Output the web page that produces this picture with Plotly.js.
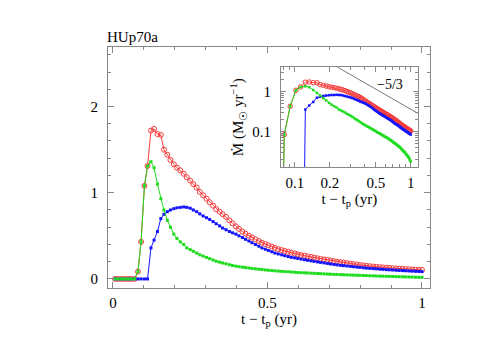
<!DOCTYPE html>
<html>
<head>
<meta charset="utf-8">
<script src="https://cdn.plot.ly/plotly-3.0.1.min.js"></script>
<style>
  html, body { margin: 0; padding: 0; background: #fff; }
  #chart { width: 501px; height: 355px; }
</style>
</head>
<body>
<div id="chart"></div>
<script>
// time since pericentre (yr)
var t = [0.007,0.017,0.028,0.038,0.049,0.059,0.070,0.081,0.091,0.102,
         0.112,0.123,0.133,0.144,0.155,0.165,0.176,0.186,0.197,0.207,
         0.218,0.229,0.239,0.250,0.260,0.271,0.281,0.292,0.303,0.313,
         0.324,0.334,0.345,0.355,0.366,0.377,0.387,0.398,0.408,0.419,
         0.429,0.440,0.450,0.461,0.472,0.482,0.493,0.503,0.514,0.524,
         0.535,0.546,0.556,0.567,0.577,0.588,0.598,0.609,0.620,0.630,
         0.641,0.651,0.662,0.672,0.683,0.694,0.704,0.715,0.725,0.736,
         0.746,0.757,0.768,0.778,0.789,0.799,0.810,0.820,0.831,0.842,
         0.852,0.863,0.873,0.884,0.894,0.905,0.916,0.926,0.937,0.947,
         0.958,0.968,0.979,0.990,1.000];

var mdotRed = [0,0,0,0,0,0,0,0.085,0.43,1.08,
         1.31,1.72,1.74,1.68,1.67,1.50,1.44,1.38,1.33,1.29,
         1.26,1.22,1.18,1.14,1.10,1.06,1.01,0.97,0.93,0.89,
         0.85,0.81,0.78,0.75,0.72,0.68,0.645,0.61,0.58,0.55,
         0.525,0.50,0.48,0.46,0.44,0.42,0.405,0.39,0.375,0.36,
         0.345,0.335,0.325,0.315,0.305,0.295,0.285,0.277,0.27,0.262,
         0.255,0.247,0.24,0.233,0.226,0.22,0.213,0.206,0.20,0.195,
         0.19,0.184,0.178,0.172,0.167,0.162,0.157,0.152,0.148,0.144,
         0.141,0.137,0.134,0.131,0.128,0.125,0.122,0.119,0.117,0.114,
         0.112,0.11,0.108,0.106,0.104];

var mdotBlue = [0,0,0,0,0,0,0,0,0,0,
         0,0.36,0.45,0.55,0.70,0.75,0.78,0.80,0.815,0.825,
         0.83,0.835,0.83,0.82,0.80,0.78,0.755,0.73,0.71,0.69,
         0.665,0.64,0.615,0.59,0.57,0.55,0.535,0.52,0.50,0.48,
         0.46,0.44,0.42,0.40,0.38,0.36,0.345,0.33,0.315,0.30,
         0.29,0.28,0.27,0.26,0.25,0.245,0.238,0.23,0.223,0.216,
         0.21,0.204,0.198,0.192,0.186,0.18,0.174,0.168,0.163,0.158,
         0.154,0.15,0.146,0.142,0.138,0.134,0.13,0.126,0.123,0.12,
         0.117,0.114,0.111,0.108,0.106,0.104,0.101,0.099,0.097,0.095,
         0.093,0.091,0.089,0.087,0.085];

var mdotGreen = [0,0,0,0,0,0,0,0.085,0.43,1.08,
         1.31,1.36,1.29,1.10,0.93,0.80,0.68,0.60,0.52,0.47,
         0.43,0.40,0.36,0.34,0.32,0.30,0.28,0.265,0.25,0.235,
         0.22,0.205,0.195,0.185,0.175,0.165,0.155,0.148,0.142,0.137,
         0.132,0.127,0.122,0.117,0.113,0.109,0.105,0.101,0.097,0.094,
         0.091,0.088,0.085,0.083,0.080,0.078,0.075,0.073,0.071,0.069,
         0.067,0.065,0.063,0.061,0.059,0.057,0.055,0.053,0.052,0.050,
         0.049,0.047,0.046,0.044,0.043,0.042,0.040,0.039,0.037,0.036,
         0.034,0.033,0.032,0.031,0.030,0.028,0.027,0.026,0.025,0.024,
         0.023,0.022,0.020,0.019,0.018];

// reference power law drawn in the inset
var slopeX = [0.2, 1.15];
var slopeY = [5.3, 0.288];
var slopeLabel = '\u22125/3';

var insetXTicks = [0.1, 0.2, 0.5, 1];
var insetXText = ['0.1', '0.2', '0.5', '1'];
var insetXMinor = [0.08, 0.09, 0.3, 0.4, 0.6, 0.7, 0.8, 0.9];
var insetYTicks = [0.1, 1];
var insetYText = ['0.1', '1'];
var insetYMinor = [0.02,0.03,0.04,0.05,0.06,0.07,0.08,0.09,
                   0.2,0.3,0.4,0.5,0.6,0.7,0.8,0.9,2,3,4];

var RED = 'rgb(245,60,60)', BLUE = 'rgb(20,20,255)', GREEN = 'rgb(30,220,30)';
var FRAME = '#888';
var FONT = 'Liberation Serif, DejaVu Serif, serif';

// zero rates sit far below the log axis so the line drops off the bottom
function logSafe(arr) { return arr.map(function (v) { return v > 0 ? v : 1e-10; }); }

var traces = [
  { x: t, y: mdotRed, mode: 'lines+markers', xaxis: 'x', yaxis: 'y',
    line: { color: RED, width: 1 },
    marker: { symbol: 'circle-open', size: 5, color: RED, line: { width: 1 } } },
  { x: t, y: mdotBlue, mode: 'lines+markers', xaxis: 'x', yaxis: 'y',
    line: { color: BLUE, width: 1 },
    marker: { symbol: 'square', size: 3, color: BLUE } },
  { x: t, y: mdotGreen, mode: 'lines+markers', xaxis: 'x', yaxis: 'y',
    line: { color: GREEN, width: 1 },
    marker: { symbol: 'square', size: 3, color: GREEN } },

  { x: slopeX, y: slopeY, mode: 'lines', xaxis: 'x2', yaxis: 'y2',
    line: { color: '#777', width: 1 } },
  { x: t, y: logSafe(mdotRed), mode: 'lines+markers', xaxis: 'x2', yaxis: 'y2',
    line: { color: RED, width: 1 },
    marker: { symbol: 'circle-open', size: 4.5, color: RED, line: { width: 1 } } },
  { x: t, y: logSafe(mdotBlue), mode: 'lines+markers', xaxis: 'x2', yaxis: 'y2',
    line: { color: BLUE, width: 1 },
    marker: { symbol: 'square', size: 2.5, color: BLUE } },
  { x: t, y: logSafe(mdotGreen), mode: 'lines+markers', xaxis: 'x2', yaxis: 'y2',
    line: { color: GREEN, width: 1 },
    marker: { symbol: 'square', size: 2.5, color: GREEN } }
];

var frameAxis = {
  showline: true, linecolor: FRAME, linewidth: 1, mirror: 'allticks',
  ticks: 'inside', tickcolor: FRAME, showgrid: false, zeroline: false,
  tickfont: { family: FONT, size: 15, color: '#000' }
};

var layout = {
  width: 501, height: 355,
  margin: { l: 108, r: 71, t: 47, b: 67 },
  paper_bgcolor: '#fff', plot_bgcolor: 'rgba(0,0,0,0)',
  showlegend: false,
  font: { family: FONT, size: 15, color: '#000' },
  title: { text: 'HUp70a', x: 107 / 501, xanchor: 'left', xref: 'container',
           y: 1 - 37 / 355, yanchor: 'middle', yref: 'container',
           font: { family: FONT, size: 15 } },
  xaxis: Object.assign({}, frameAxis, {
    domain: [0, 1], anchor: 'y', range: [-0.016, 1.026],
    tick0: 0, dtick: 0.5, ticklen: 6, ticklabelstandoff: 1,
    minor: { tick0: 0, dtick: 0.1, ticks: 'inside', ticklen: 3, tickcolor: FRAME },
    title: { text: 't \u2212 t<sub>p</sub> (yr)', standoff: 2, font: { family: FONT, size: 15 } }
  }),
  yaxis: Object.assign({}, frameAxis, {
    domain: [0, 1], anchor: 'x', range: [-0.105, 2.69],
    tick0: 0, dtick: 1, ticklen: 6, ticklabelstandoff: 6,
    minor: { tick0: 0, dtick: 0.2, ticks: 'inside', ticklen: 3, tickcolor: FRAME }
  }),
  xaxis2: Object.assign({}, frameAxis, {
    type: 'log', domain: [0.537, 0.962], anchor: 'y2', range: [-1.121, 0.061],
    tickmode: 'array', tickvals: insetXTicks, ticktext: insetXText, ticklen: 5,
    ticklabelstandoff: 2,
    minor: { tickmode: 'array', tickvals: insetXMinor, ticks: 'inside', ticklen: 3, tickcolor: FRAME },
    title: { text: 't \u2212 t<sub>p</sub> (yr)', standoff: 2, font: { family: FONT, size: 15 } }
  }),
  yaxis2: Object.assign({}, frameAxis, {
    type: 'log', domain: [0.501, 0.916], anchor: 'x2', range: [-1.89, 0.61],
    tickmode: 'array', tickvals: insetYTicks, ticktext: insetYText, ticklen: 5,
    ticklabelstandoff: 6,
    minor: { tickmode: 'array', tickvals: insetYMinor, ticks: 'inside', ticklen: 3, tickcolor: FRAME },
    title: { text: 'M\u0307 (M<sub>\u2609</sub> yr<sup>\u22121</sup>)', standoff: 4,
             font: { family: FONT, size: 15 } }
  }),
  annotations: [{
    xref: 'x2', yref: 'y2', x: Math.log10(0.66), y: Math.log10(1.55),
    text: slopeLabel, showarrow: false, font: { family: FONT, size: 14, color: '#000' }
  }]
};

Plotly.newPlot('chart', traces, layout, { staticPlot: true, displayModeBar: false });
</script>
</body>
</html>
